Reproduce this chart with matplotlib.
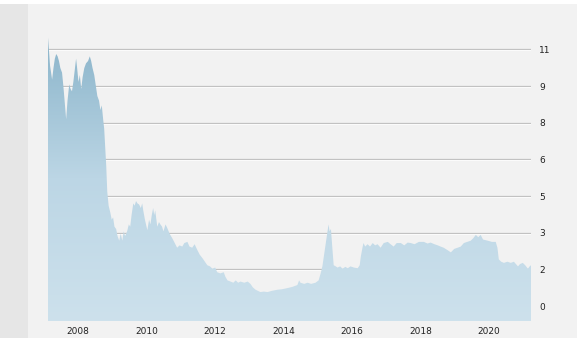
import matplotlib
matplotlib.use('Agg')
import matplotlib.pyplot as plt
import numpy as np
from matplotlib.colors import LinearSegmentedColormap
from matplotlib.patches import Rectangle

# ---- data (decimal year, price) ----
years = [2007.12, 2007.15, 2007.18, 2007.21, 2007.24, 2007.28, 2007.32, 2007.36, 2007.40, 2007.44,
         2007.48, 2007.53, 2007.57, 2007.61, 2007.65, 2007.69, 2007.74, 2007.78, 2007.82, 2007.86,
         2007.90, 2007.94, 2007.97, 2008.01, 2008.05, 2008.09, 2008.13, 2008.18, 2008.23, 2008.29,
         2008.34, 2008.38, 2008.42, 2008.47, 2008.52, 2008.56, 2008.61, 2008.65, 2008.69, 2008.73,
         2008.76, 2008.79, 2008.82, 2008.85, 2008.89, 2008.94, 2008.98, 2009.02, 2009.06, 2009.11,
         2009.15, 2009.20, 2009.24, 2009.29, 2009.33, 2009.37, 2009.43, 2009.48, 2009.52, 2009.56,
         2009.61, 2009.65, 2009.69, 2009.73, 2009.78, 2009.83, 2009.87, 2009.90, 2009.95, 2010.02,
         2010.07, 2010.11, 2010.15, 2010.19, 2010.22, 2010.25, 2010.31, 2010.36, 2010.40, 2010.45,
         2010.49, 2010.55, 2010.60, 2010.67, 2010.75, 2010.82, 2010.89, 2010.96, 2011.04, 2011.10,
         2011.19, 2011.25, 2011.33, 2011.40, 2011.48, 2011.55, 2011.63, 2011.70, 2011.77, 2011.85,
         2011.92, 2012.00, 2012.06, 2012.15, 2012.25, 2012.30, 2012.36, 2012.45, 2012.53, 2012.60,
         2012.67, 2012.74, 2012.85, 2012.95, 2013.03, 2013.10, 2013.18, 2013.25, 2013.32, 2013.42,
         2013.53, 2013.65, 2013.82, 2013.95, 2014.11, 2014.25, 2014.40, 2014.45, 2014.49, 2014.60,
         2014.70, 2014.80, 2014.93, 2015.02, 2015.08, 2015.13, 2015.18, 2015.22, 2015.27, 2015.31,
         2015.34, 2015.38, 2015.42, 2015.46, 2015.52, 2015.57, 2015.65, 2015.72, 2015.80, 2015.87,
         2015.95, 2016.05, 2016.16, 2016.22, 2016.25, 2016.30, 2016.33, 2016.38, 2016.45, 2016.52,
         2016.60, 2016.67, 2016.74, 2016.83, 2016.92, 2017.04, 2017.12, 2017.21, 2017.30, 2017.42,
         2017.52, 2017.62, 2017.71, 2017.82, 2017.95, 2018.09, 2018.20, 2018.29, 2018.40, 2018.50,
         2018.58, 2018.67, 2018.78, 2018.88, 2018.98, 2019.08, 2019.17, 2019.26, 2019.36, 2019.46,
         2019.53, 2019.61, 2019.68, 2019.75, 2019.82, 2019.96, 2020.08, 2020.19, 2020.24, 2020.28,
         2020.35, 2020.43, 2020.53, 2020.63, 2020.72, 2020.84, 2020.90, 2020.98, 2021.05, 2021.13,
         2021.18, 2021.22]
prices = [11.5, 10.9, 10.3, 10.0, 9.7, 10.2, 10.6, 10.8, 10.7, 10.5,
          10.2, 10.0, 9.4, 8.7, 8.0, 8.8, 9.5, 9.3, 9.2, 9.6,
          10.1, 10.6, 10.2, 9.6, 9.9, 9.3, 9.8, 10.2, 10.4, 10.5,
          10.7, 10.5, 10.2, 9.9, 9.4, 9.0, 8.8, 8.4, 8.6, 8.0,
          7.6, 6.8, 6.0, 4.9, 4.3, 4.0, 3.7, 3.8, 3.4, 3.3,
          3.0, 2.8, 3.1, 2.8, 3.2, 3.0, 3.2, 3.5, 3.4, 3.9,
          4.4, 4.3, 4.5, 4.4, 4.35, 4.2, 4.4, 4.1, 3.7, 3.25,
          3.7, 3.5, 3.9, 4.2, 3.9, 4.1, 3.4, 3.6, 3.5, 3.4,
          3.2, 3.5, 3.35, 3.1, 2.9, 2.7, 2.5, 2.6, 2.55, 2.7,
          2.75, 2.55, 2.5, 2.65, 2.4, 2.2, 2.05, 1.9, 1.75, 1.7,
          1.6, 1.65, 1.45, 1.4, 1.45, 1.25, 1.1, 1.05, 1.0, 1.1,
          1.0, 1.05, 1.0, 1.05, 0.95, 0.8, 0.7, 0.65, 0.6, 0.62,
          0.6, 0.65, 0.7, 0.72, 0.77, 0.82, 0.9, 1.1, 1.0, 0.95,
          1.0, 0.95, 1.0, 1.1, 1.4, 1.7, 2.2, 2.6, 3.1, 3.5,
          3.2, 3.3, 2.5, 1.75, 1.7, 1.65, 1.7, 1.6, 1.68, 1.62,
          1.7, 1.65, 1.62, 1.75, 2.1, 2.5, 2.7, 2.55, 2.65, 2.55,
          2.7, 2.6, 2.65, 2.5, 2.7, 2.75, 2.65, 2.55, 2.7, 2.7,
          2.6, 2.72, 2.7, 2.65, 2.75, 2.75, 2.68, 2.72, 2.65, 2.6,
          2.55, 2.5, 2.4, 2.3, 2.45, 2.5, 2.55, 2.7, 2.75, 2.8,
          2.9, 3.05, 2.95, 3.05, 2.85, 2.8, 2.75, 2.75, 2.5, 2.0,
          1.9, 1.85, 1.9, 1.85, 1.9, 1.7, 1.8, 1.85, 1.75, 1.6,
          1.7, 1.75]

y_tick_values = [i * 11 / 7 for i in range(8)]
y_tick_labels = ['0', '2', '3', '5', '6', '8', '9', '11']
x_tick_values = [2008, 2010, 2012, 2014, 2016, 2018, 2020]
x_tick_labels = ['2008', '2010', '2012', '2014', '2016', '2018', '2020']

W, H = 580, 342
fig = plt.figure(figsize=(W / 100, H / 100), dpi=100, facecolor='white')
fig.patches.append(Rectangle((0, 4 / H), 577 / W, 334 / H, transform=fig.transFigure,
                             facecolor='#f2f2f2', edgecolor='none', zorder=-10))
fig.patches.append(Rectangle((0, 4 / H), 28 / W, 334 / H, transform=fig.transFigure,
                             facecolor='#e6e6e6', edgecolor='none', zorder=-9))

ax = fig.add_axes([48 / W, 21 / H, 483 / W, 295 / H])
ax.set_facecolor('none')
for s in ax.spines.values():
    s.set_visible(False)

ymin, ymax = -0.64, 12.0
ax.set_ylim(ymin, ymax)
ax.set_xlim(years[0], years[-1])

# gridlines with light shadow
for v in y_tick_values[1:]:
    ax.axhline(v, color='#c2c2c2', lw=0.9, zorder=1)
    ax.axhline(v - 0.045, color='#fcfcfc', lw=0.7, zorder=1)

# gradient area fill
poly = ax.fill_between(years, prices, ymin, facecolor='none', edgecolor='none', zorder=2)
cmap = LinearSegmentedColormap.from_list('g', ['#cde1ec', '#bcd6e5', '#8ab4ca'])
grad = np.linspace(0, 1, 256).reshape(-1, 1)
im = ax.imshow(grad, extent=[years[0], years[-1], ymin, 11.6], origin='lower',
               aspect='auto', cmap=cmap, zorder=2, interpolation='bilinear')
im.set_clip_path(poly.get_paths()[0], transform=ax.transData)
ax.set_ylim(ymin, ymax)
ax.set_xlim(years[0], years[-1])

ax.yaxis.tick_right()
ax.set_yticks(y_tick_values)
ax.set_yticklabels(y_tick_labels)
ax.set_xticks(x_tick_values)
ax.set_xticklabels(x_tick_labels)
ax.tick_params(axis='both', length=0, labelsize=6.5, colors='#222222')
ax.tick_params(axis='y', pad=6)
ax.tick_params(axis='x', pad=4)

fig.savefig('out.png', dpi=100, facecolor='white')
